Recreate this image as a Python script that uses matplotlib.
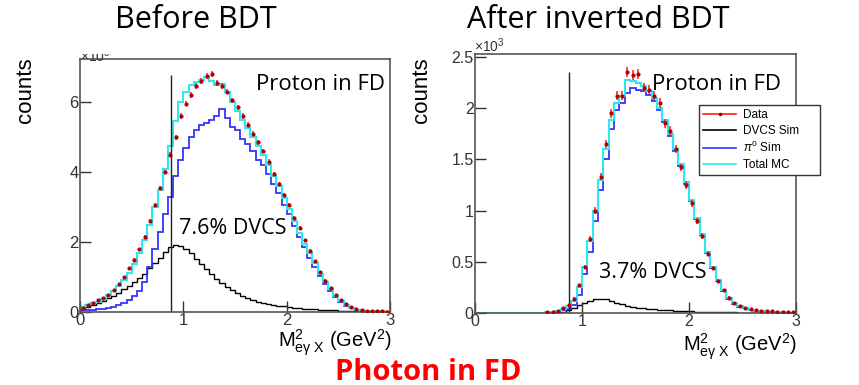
import numpy as np
import matplotlib
matplotlib.use("Agg")
import matplotlib.pyplot as plt
from matplotlib.lines import Line2D
from matplotlib.transforms import Bbox, TransformedBbox

plt.rcParams['mathtext.fontset'] = 'custom'
plt.rcParams['mathtext.rm'] = 'Liberation Sans'
plt.rcParams['mathtext.it'] = 'Liberation Sans:italic'

# ---------------- data (x10^3 counts, 60 bins of 0.05 GeV^2 from 0 to 3) ----------------
edges = np.linspace(0, 3, 61)

before_data = [0.12, 0.2, 0.27, 0.33, 0.4, 0.5, 0.62, 0.8, 1.0, 1.25,
               1.5, 1.8, 2.15, 2.6, 3.05, 3.55, 4.0, 4.5, 5.0, 5.6,
               5.95, 6.2, 6.45, 6.6, 6.75, 6.8, 6.55, 6.45, 6.3, 6.05,
               5.85, 5.6, 5.35, 5.1, 4.85, 4.6, 4.3, 3.95, 3.65, 3.35,
               3.05, 2.7, 2.4, 2.05, 1.75, 1.45, 1.15, 0.9, 0.68, 0.5,
               0.35, 0.22, 0.14, 0.09, 0.06, 0.04, 0.03, 0.02, 0.02, 0.01]
before_dvcs = [0.1, 0.15, 0.2, 0.25, 0.32, 0.4, 0.47, 0.55, 0.65, 0.75,
               0.85, 0.97, 1.1, 1.25, 1.4, 1.55, 1.72, 1.85, 1.92, 1.9,
               1.8, 1.68, 1.52, 1.38, 1.22, 1.08, 0.95, 0.82, 0.72, 0.62,
               0.53, 0.46, 0.4, 0.35, 0.3, 0.27, 0.24, 0.21, 0.18, 0.16,
               0.14, 0.12, 0.11, 0.1, 0.09, 0.08, 0.07, 0.06, 0.05, 0.05,
               0.04, 0.04, 0.03, 0.03, 0.03, 0.02, 0.02, 0.02, 0.02, 0.02]
before_pi0 = [0.05, 0.06, 0.07, 0.08, 0.1, 0.12, 0.15, 0.2, 0.27, 0.35,
              0.45, 0.6, 0.85, 1.3, 1.8, 2.3, 2.8, 3.3, 3.9, 4.35,
              4.7, 5.0, 5.2, 5.35, 5.4, 5.5, 5.6, 5.8, 5.55, 5.3,
              5.2, 4.95, 4.8, 4.6, 4.35, 4.2, 3.95, 3.65, 3.4, 3.05,
              2.8, 2.45, 2.15, 1.85, 1.55, 1.3, 1.02, 0.8, 0.6, 0.42,
              0.3, 0.18, 0.11, 0.06, 0.04, 0.02, 0.01, 0.01, 0.01, 0.01]
before_total = [0.15, 0.2, 0.25, 0.3, 0.38, 0.48, 0.6, 0.75, 0.92, 1.12,
                1.38, 1.68, 2.05, 2.5, 3.0, 3.5, 4.1, 4.75, 5.45, 6.0,
                6.3, 6.5, 6.58, 6.62, 6.72, 6.6, 6.5, 6.52, 6.3, 6.0,
                5.75, 5.5, 5.25, 5.0, 4.75, 4.5, 4.2, 3.9, 3.6, 3.25,
                2.95, 2.6, 2.25, 1.95, 1.7, 1.4, 1.1, 0.85, 0.65, 0.45,
                0.32, 0.2, 0.12, 0.07, 0.05, 0.03, 0.02, 0.02, 0.01, 0.01]

after_data = [0.0, 0.0, 0.0, 0.0, 0.0, 0.0, 0.0, 0.0, 0.0, 0.0,
              0.0, 0.0, 0.0, 0.005, 0.01, 0.02, 0.05, 0.08, 0.14, 0.27,
              0.45, 0.72, 1.0, 1.33, 1.65, 1.95, 2.12, 2.12, 2.35, 2.32,
              2.33, 2.2, 2.18, 2.12, 2.05, 1.85, 1.78, 1.6, 1.42, 1.25,
              1.07, 0.9, 0.75, 0.58, 0.44, 0.31, 0.22, 0.15, 0.1, 0.07,
              0.05, 0.04, 0.03, 0.02, 0.02, 0.015, 0.01, 0.01, 0.01, 0.01]
after_dvcs = [0.0, 0.0, 0.0, 0.0, 0.0, 0.0, 0.0, 0.0, 0.0, 0.0,
              0.0, 0.0, 0.0, 0.0, 0.0, 0.005, 0.01, 0.03, 0.05, 0.08,
              0.1, 0.12, 0.135, 0.14, 0.135, 0.12, 0.1, 0.085, 0.07, 0.06,
              0.05, 0.045, 0.04, 0.035, 0.03, 0.028, 0.025, 0.022, 0.02, 0.018,
              0.015, 0.013, 0.012, 0.01, 0.008, 0.007, 0.006, 0.005, 0.005, 0.004,
              0.004, 0.003, 0.003, 0.002, 0.002, 0.002, 0.001, 0.001, 0.001, 0.001]
after_pi0 = [0.0, 0.0, 0.0, 0.0, 0.0, 0.0, 0.0, 0.0, 0.0, 0.0,
             0.0, 0.0, 0.0, 0.005, 0.01, 0.015, 0.03, 0.04, 0.08, 0.18,
             0.38, 0.6, 0.9, 1.2, 1.5, 1.8, 1.98, 2.05, 2.15, 2.2,
             2.18, 2.17, 2.13, 2.07, 1.98, 1.86, 1.73, 1.58, 1.43, 1.26,
             1.09, 0.92, 0.76, 0.59, 0.44, 0.31, 0.21, 0.14, 0.09, 0.06,
             0.045, 0.03, 0.02, 0.015, 0.01, 0.008, 0.005, 0.004, 0.003, 0.002]
after_total = [0.0, 0.0, 0.0, 0.0, 0.0, 0.0, 0.0, 0.0, 0.0, 0.0,
               0.0, 0.0, 0.0, 0.005, 0.01, 0.02, 0.04, 0.07, 0.12, 0.25,
               0.45, 0.7, 1.0, 1.3, 1.6, 1.88, 2.05, 2.12, 2.27, 2.26,
               2.24, 2.21, 2.17, 2.1, 2.0, 1.88, 1.75, 1.6, 1.45, 1.28,
               1.1, 0.93, 0.77, 0.6, 0.45, 0.32, 0.22, 0.15, 0.1, 0.07,
               0.05, 0.03, 0.02, 0.015, 0.01, 0.008, 0.006, 0.005, 0.004, 0.003]

x_ticks = [0, 1, 2, 3]
before_yticks = [0, 2, 4, 6]
after_yticks = [0, 0.5, 1, 1.5, 2, 2.5]
after_ytick_labels = ["0", "0.5", "1", "1.5", "2", "2.5"]
cut_value = 0.88

# ---------------- figure ----------------
W, H = 859, 385
fig = plt.figure(figsize=(W / 100, H / 100), dpi=100)

def ax_rect(x0, x1, ytop, ybot):
    return [x0 / W, 1 - ybot / H, (x1 - x0) / W, (ybot - ytop) / H]

C_RED = '#ff1a1a'
C_BLUE = '#3535ff'
C_CYAN = '#2ee8f0'
TICKFONT = 'Liberation Sans'
TXTFONT = 'Open Sans'

def draw_panel(ax, data, dvcs, pi0, total, ymax, yticks, yticklabels, tickfs, cut_top):
    centers = 0.5 * (edges[1:] + edges[:-1])
    ax.stairs(dvcs, edges, color='black', lw=1.0)
    ax.stairs(pi0, edges, color=C_BLUE, lw=1.3)
    ax.stairs(total, edges, color=C_CYAN, lw=1.5)
    d = np.asarray(data)
    err = np.sqrt(d * 1000.0) / 1000.0
    mask = d > 0.0
    ax.errorbar(centers[mask], d[mask], yerr=err[mask], fmt='o', ms=2.0,
                color=C_RED, mec='#b00000', mfc='#b00000', elinewidth=1.1,
                capsize=0, zorder=5)
    ax.vlines(cut_value, 0, cut_top, color='#222222', lw=1.0)
    ax.set_xlim(0, 3)
    ax.set_ylim(0, ymax)
    ax.set_xticks(x_ticks)
    ax.set_xticklabels([str(t) for t in x_ticks], fontfamily=TICKFONT, fontsize=tickfs)
    ax.set_yticks(yticks)
    ax.set_yticklabels(yticklabels, fontfamily=TICKFONT, fontsize=tickfs)
    ax.tick_params(direction='in', length=8, width=1, pad=1, colors='#333333')
    for s in ax.spines.values():
        s.set_color('#555555')
        s.set_linewidth(1.2)

ax1 = fig.add_axes(ax_rect(80, 390, 59, 312))
draw_panel(ax1, before_data, before_dvcs, before_pi0, before_total, 7.23,
           before_yticks, [str(t) for t in before_yticks], 12, 6.77)

ax2 = fig.add_axes(ax_rect(475, 796, 54, 313))
draw_panel(ax2, after_data, after_dvcs, after_pi0, after_total, 2.527,
           after_yticks, after_ytick_labels, 11.5, 2.35)

# exponent labels
t = fig.text(80 / W, 1 - 62 / H, r'$\times$10$^{3}$', fontfamily=TICKFONT, fontsize=10,
             ha='left', va='baseline', color='#333333')
t.set_clip_box(TransformedBbox(Bbox([[0, 0], [1, 1 - 54 / H]]), fig.transFigure))
t.set_clip_on(True)
fig.text(474 / W, 1 - 52 / H, r'$\times$10$^{3}$', fontfamily=TICKFONT, fontsize=10,
         ha='left', va='baseline', color='#333333')

# titles
fig.text(196 / W, 1 - 20 / H, 'Before BDT', fontfamily=TXTFONT, fontsize=22,
         ha='center', va='center')
fig.text(598 / W, 1 - 20 / H, 'After inverted BDT', fontfamily=TXTFONT, fontsize=22,
         ha='center', va='center')

# y labels
fig.text(25 / W, 1 - 90 / H, 'counts', fontfamily=TICKFONT, fontsize=16,
         rotation=90, ha='center', va='center')
fig.text(422 / W, 1 - 90 / H, 'counts', fontfamily=TICKFONT, fontsize=16,
         rotation=90, ha='center', va='center')

# x labels
xlab = r'$\mathregular{M^{2}_{e\gamma\ X}}$ (GeV$^{2}$)'
fig.text(392 / W, 1 - 343 / H, xlab, fontfamily=TICKFONT, fontsize=14.5,
         ha='right', va='center')
fig.text(797 / W, 1 - 347 / H, xlab, fontfamily=TICKFONT, fontsize=14.5,
         ha='right', va='center')

# annotations
fig.text(320 / W, 1 - 84 / H, 'Proton in FD', fontfamily=TXTFONT, fontsize=16,
         ha='center', va='center')
fig.text(716 / W, 1 - 85 / H, 'Proton in FD', fontfamily=TXTFONT, fontsize=16,
         ha='center', va='center')
fig.text(233 / W, 1 - 229 / H, '7.6% DVCS', fontfamily=TXTFONT, fontsize=15.5,
         ha='center', va='center')
fig.text(653 / W, 1 - 273 / H, '3.7% DVCS', fontfamily=TXTFONT, fontsize=15.5,
         ha='center', va='center')

fig.text(428 / W, 1 - 372 / H, 'Photon in FD', fontfamily=TXTFONT, fontsize=21,
         fontweight='bold', color='#ff0000', ha='center', va='center')

# legend
handles = [Line2D([], [], color=C_RED, lw=1.2, marker='o', ms=1.5, mfc='#800000', mec='#800000'),
           Line2D([], [], color='black', lw=1.2),
           Line2D([], [], color=C_BLUE, lw=1.2),
           Line2D([], [], color=C_CYAN, lw=1.2)]
labels = ['Data', 'DVCS Sim', r'$\pi^{0}$ Sim', 'Total MC']
leg = fig.legend(handles, labels, loc='upper left', mode='expand',
                 bbox_to_anchor=(699 / W, 1 - 176 / H, 121 / W, 71 / H),
                 bbox_transform=fig.transFigure,
                 prop={'family': TICKFONT, 'size': 8.5}, frameon=True, fancybox=False,
                 edgecolor='#333333', framealpha=1, borderpad=0.35, labelspacing=0.3,
                 handlelength=2.8, handletextpad=0.6, borderaxespad=0)
leg.get_frame().set_linewidth(1.0)

fig.savefig('out.png', dpi=100)
